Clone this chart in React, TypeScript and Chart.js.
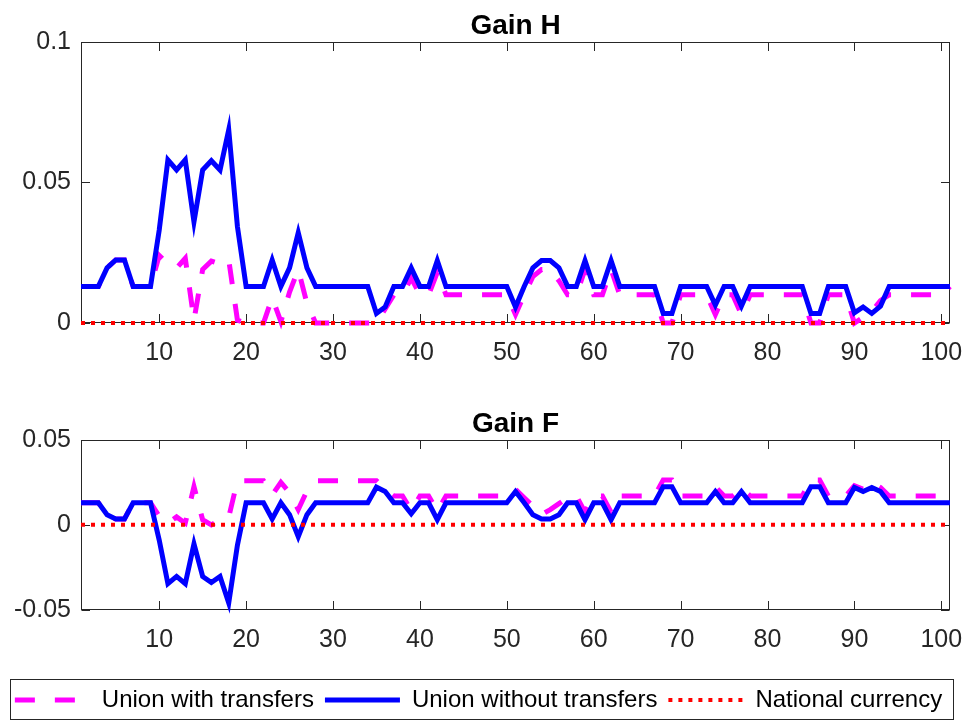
import React, { useEffect, useRef } from 'react';
import { Chart, registerables } from 'chart.js';

Chart.register(...registerables);

// ---------- data ----------
const seriesNames = ['Union with transfers', 'Union without transfers', 'National currency'];
const xTicks = [10, 20, 30, 40, 50, 60, 70, 80, 90, 100];
const xMin = 1;
const xMax = 101;

const topYTicks = [0, 0.05, 0.1];
const topYLabels = ['0', '0.05', '0.1'];
const botYTicks = [-0.05, 0, 0.05];
const botYLabels = ['-0.05', '0', '0.05'];

// Gain H
const gainHWith = [
  0.013, 0.013, 0.013, 0.0196, 0.0224, 0.0224, 0.013, 0.013, 0.013, 0.024,
  0.021, 0.0195, 0.023, 0.001, 0.019, 0.022, 0.021, 0.0225, 0.001, 0,
  0, 0, 0.009, 0.0005, 0.011, 0.019, 0.007, 0, 0, 0,
  0, 0, 0, 0, 0, 0.005, 0.01, 0.01, 0.016, 0.01,
  0.01, 0.018, 0.01, 0.01, 0.01, 0.01, 0.01, 0.01, 0.01, 0.01,
  0.003, 0.01, 0.0165, 0.019, 0.019, 0.015, 0.01, 0.01, 0.019, 0.01,
  0.01, 0.019, 0.01, 0.01, 0.01, 0.01, 0.01, 0, 0, 0.01,
  0.01, 0.01, 0.01, 0.003, 0.01, 0.01, 0.003, 0.01, 0.01, 0.01,
  0.01, 0.01, 0.01, 0.01, 0, 0, 0.01, 0.01, 0.01, 0,
  0.002, 0.004, 0.008, 0.01, 0.01, 0.01, 0.01, 0.01, 0.01, 0.01,
  0.013,
];
const gainHWithout = [
  0.013, 0.013, 0.013, 0.0196, 0.0224, 0.0224, 0.013, 0.013, 0.013, 0.033,
  0.058, 0.0544, 0.058, 0.036, 0.0544, 0.0577, 0.0544, 0.0687, 0.0343, 0.013,
  0.013, 0.013, 0.0224, 0.013, 0.0196, 0.0321, 0.0196, 0.013, 0.013, 0.013,
  0.013, 0.013, 0.013, 0.013, 0.0034, 0.0057, 0.013, 0.013, 0.0196, 0.013,
  0.013, 0.0222, 0.013, 0.013, 0.013, 0.013, 0.013, 0.013, 0.013, 0.013,
  0.0057, 0.013, 0.0196, 0.0222, 0.0222, 0.0196, 0.013, 0.013, 0.0222, 0.013,
  0.013, 0.0222, 0.013, 0.013, 0.013, 0.013, 0.013, 0.0034, 0.0034, 0.013,
  0.013, 0.013, 0.013, 0.0064, 0.013, 0.013, 0.006, 0.013, 0.013, 0.013,
  0.013, 0.013, 0.013, 0.013, 0.0034, 0.0034, 0.013, 0.013, 0.013, 0.0036,
  0.0057, 0.0034, 0.006, 0.013, 0.013, 0.013, 0.013, 0.013, 0.013, 0.013,
  0.013,
];
const gainHNational = [
  0, 0, 0, 0, 0, 0, 0, 0, 0, 0,
  0, 0, 0, 0, 0, 0, 0, 0, 0, 0,
  0, 0, 0, 0, 0, 0, 0, 0, 0, 0,
  0, 0, 0, 0, 0, 0, 0, 0, 0, 0,
  0, 0, 0, 0, 0, 0, 0, 0, 0, 0,
  0, 0, 0, 0, 0, 0, 0, 0, 0, 0,
  0, 0, 0, 0, 0, 0, 0, 0, 0, 0,
  0, 0, 0, 0, 0, 0, 0, 0, 0, 0,
  0, 0, 0, 0, 0, 0, 0, 0, 0, 0,
  0, 0, 0, 0, 0, 0, 0, 0, 0, 0,
  0,
];

// Gain F
const gainFWith = [
  0.013, 0.013, 0.013, 0.006, 0.0035, 0.0035, 0.013, 0.013, 0.013, 0.005,
  0.001, 0.0047, 0.001, 0.0225, 0.003, 0, 0.003, 0.0045, 0.026, 0.026,
  0.026, 0.026, 0.0176, 0.025, 0.019, 0.009, 0.02, 0.026, 0.026, 0.026,
  0.026, 0.026, 0.026, 0.026, 0.026, 0.021, 0.017, 0.017, 0.0085, 0.017,
  0.017, 0.008, 0.017, 0.017, 0.017, 0.017, 0.017, 0.017, 0.017, 0.017,
  0.021, 0.016, 0.011, 0.006, 0.009, 0.0125, 0.016, 0.017, 0.0075, 0.017,
  0.017, 0.0075, 0.017, 0.017, 0.017, 0.017, 0.017, 0.0265, 0.0265, 0.017,
  0.017, 0.017, 0.017, 0.0225, 0.017, 0.017, 0.022, 0.017, 0.017, 0.017,
  0.017, 0.017, 0.017, 0.017, 0.0265, 0.0265, 0.017, 0.017, 0.017, 0.023,
  0.021, 0.025, 0.022, 0.017, 0.017, 0.017, 0.017, 0.017, 0.017, 0.017,
  0.014,
];
const gainFWithout = [
  0.013, 0.013, 0.013, 0.006, 0.0035, 0.0035, 0.013, 0.013, 0.013, -0.009,
  -0.0347, -0.0304, -0.0347, -0.0112, -0.0304, -0.034, -0.0304, -0.046, -0.012, 0.013,
  0.013, 0.013, 0.0035, 0.013, 0.006, -0.007, 0.006, 0.013, 0.013, 0.013,
  0.013, 0.013, 0.013, 0.013, 0.0222, 0.0196, 0.013, 0.013, 0.0065, 0.013,
  0.013, 0.003, 0.013, 0.013, 0.013, 0.013, 0.013, 0.013, 0.013, 0.013,
  0.0196, 0.013, 0.006, 0.0035, 0.0035, 0.006, 0.013, 0.013, 0.003, 0.013,
  0.013, 0.003, 0.013, 0.013, 0.013, 0.013, 0.013, 0.0225, 0.0225, 0.013,
  0.013, 0.013, 0.013, 0.0196, 0.013, 0.013, 0.0196, 0.013, 0.013, 0.013,
  0.013, 0.013, 0.013, 0.013, 0.0225, 0.0225, 0.013, 0.013, 0.013, 0.022,
  0.0196, 0.022, 0.0196, 0.013, 0.013, 0.013, 0.013, 0.013, 0.013, 0.013,
  0.013,
];
const gainFNational = [
  0, 0, 0, 0, 0, 0, 0, 0, 0, 0,
  0, 0, 0, 0, 0, 0, 0, 0, 0, 0,
  0, 0, 0, 0, 0, 0, 0, 0, 0, 0,
  0, 0, 0, 0, 0, 0, 0, 0, 0, 0,
  0, 0, 0, 0, 0, 0, 0, 0, 0, 0,
  0, 0, 0, 0, 0, 0, 0, 0, 0, 0,
  0, 0, 0, 0, 0, 0, 0, 0, 0, 0,
  0, 0, 0, 0, 0, 0, 0, 0, 0, 0,
  0, 0, 0, 0, 0, 0, 0, 0, 0, 0,
  0, 0, 0, 0, 0, 0, 0, 0, 0, 0,
  0,
];

// ---------- styling ----------
const FONT = '"Liberation Sans", Arial, Helvetica, sans-serif';
const AXIS_COLOR = '#262626';

const toPoints = (arr: number[]) => arr.map((y, i) => ({ x: i + 1, y }));

const framePlugin = {
  id: 'matlabFrame',
  beforeDatasetsDraw(chart: any) {
    const { ctx, chartArea: a, scales } = chart;
    const L = Math.round(a.left) + 0.5;
    const R = Math.round(a.right) - 0.5;
    const T = Math.round(a.top) + 0.5;
    const B = Math.round(a.bottom) - 0.5;
    const tl = 8.5;
    ctx.save();
    ctx.strokeStyle = AXIS_COLOR;
    ctx.lineWidth = 1;
    ctx.setLineDash([]);
    ctx.strokeRect(L, T, R - L, B - T);
    ctx.beginPath();
    scales.x.ticks.forEach((t: any) => {
      const px = Math.round(scales.x.getPixelForValue(t.value)) + 0.5;
      ctx.moveTo(px, B);
      ctx.lineTo(px, B - tl);
      ctx.moveTo(px, T);
      ctx.lineTo(px, T + tl);
    });
    scales.y.ticks.forEach((t: any) => {
      const py = Math.round(scales.y.getPixelForValue(t.value)) + 0.5;
      ctx.moveTo(L, py);
      ctx.lineTo(L + tl, py);
      ctx.moveTo(R, py);
      ctx.lineTo(R - tl, py);
    });
    ctx.stroke();
    ctx.restore();
  },
};

const axesTitlePlugin = {
  id: 'axesTitle',
  afterDraw(chart: any, _args: any, opts: any) {
    const { ctx, chartArea: a } = chart;
    ctx.save();
    ctx.font = `bold ${opts.size}px ${FONT}`;
    ctx.fillStyle = '#000';
    ctx.textAlign = 'center';
    ctx.textBaseline = 'alphabetic';
    ctx.fillText(opts.text, (a.left + a.right) / 2, a.top - opts.gap);
    ctx.restore();
  },
};

const legendBoxPlugin = {
  id: 'legendBox',
  afterDraw(chart: any) {
    const lg = chart.legend;
    if (!lg || !chart.options.plugins.legend.display) return;
    const { ctx } = chart;
    ctx.save();
    ctx.strokeStyle = AXIS_COLOR;
    ctx.lineWidth = 1;
    ctx.setLineDash([]);
    ctx.strokeRect(10.5, Math.round(lg.top) + 2.5, 943, 40);
    ctx.restore();
  },
};

const legendLabels = (chart: any) => {
  const items = (Chart.defaults as any).plugins.legend.labels.generateLabels(chart);
  items.forEach((it: any) => {
    const ds = chart.data.datasets[it.datasetIndex];
    it.lineDash = ds.borderDash || [];
    it.lineWidth = ds.borderWidth;
    it.strokeStyle = ds.borderColor;
    it.fillStyle = ds.borderColor;
    it.lineCap = 'butt';
    it.pointStyle = 'line';
  });
  return items;
};

function makeConfig(
  title: string,
  withT: number[],
  withoutT: number[],
  national: number[],
  yTicks: number[],
  yLabels: string[],
  topPad: number,
  xAxisHeight: number,
  showLegend: boolean
): any {
  return {
    type: 'line',
    data: {
      datasets: [
        {
          label: seriesNames[0],
          data: toPoints(withT),
          borderColor: '#ff00ff',
          backgroundColor: '#ff00ff',
          borderWidth: 5,
          borderDash: [20, 20],
          pointRadius: 0,
          tension: 0,
          fill: false,
          clip: false,
          order: 2,
        },
        {
          label: seriesNames[1],
          data: toPoints(withoutT),
          borderColor: '#0000ff',
          backgroundColor: '#0000ff',
          borderWidth: 5,
          pointRadius: 0,
          tension: 0,
          fill: false,
          clip: false,
          order: 1,
        },
        {
          label: seriesNames[2],
          data: toPoints(national),
          borderColor: '#ff0000',
          backgroundColor: '#ff0000',
          borderWidth: 4,
          borderDash: [4, 6],
          pointRadius: 0,
          tension: 0,
          fill: false,
          clip: false,
          order: 0,
        },
      ],
    },
    options: {
      responsive: false,
      animation: false,
      devicePixelRatio: 1,
      events: [],
      layout: { padding: { top: topPad, left: 0, right: 13, bottom: 0 } },
      scales: {
        x: {
          type: 'linear',
          min: xMin,
          max: xMax,
          grid: { display: false, drawTicks: false },
          border: { display: false },
          afterBuildTicks: (s: any) => {
            s.ticks = xTicks.map((v) => ({ value: v }));
          },
          afterFit: (s: any) => {
            s.height = xAxisHeight;
            s.paddingLeft = 0;
            s.paddingRight = 20;
          },
          ticks: {
            autoSkip: false,
            maxRotation: 0,
            padding: 15.5,
            color: AXIS_COLOR,
            font: { family: FONT, size: 25, lineHeight: 1.2 },
            callback: (v: any) => String(v),
          },
        },
        y: {
          type: 'linear',
          min: yTicks[0],
          max: yTicks[yTicks.length - 1],
          grid: { display: false, drawTicks: false },
          border: { display: false },
          afterBuildTicks: (s: any) => {
            s.ticks = yTicks.map((v) => ({ value: v }));
          },
          afterFit: (s: any) => {
            s.width = 81;
            s.paddingTop = 0;
            s.paddingBottom = 0;
          },
          ticks: {
            padding: 10,
            color: AXIS_COLOR,
            font: { family: FONT, size: 25, lineHeight: 1.2 },
            callback: (v: any) => {
              const i = yTicks.indexOf(v);
              return i >= 0 ? yLabels[i] : '';
            },
          },
        },
      },
      plugins: {
        title: { display: false },
        tooltip: { enabled: false },
        axesTitle: { text: title, size: 28, gap: 8 },
        legend: {
          display: showLegend,
          position: 'bottom',
          labels: {
            usePointStyle: true,
            pointStyle: 'line',
            pointStyleWidth: 75,
            padding: 11,
            color: '#000',
            font: { family: FONT, size: 24 },
            generateLabels: legendLabels,
            sort: (a: any, b: any) => a.datasetIndex - b.datasetIndex,
          },
        },
      },
    },
    plugins: [framePlugin, axesTitlePlugin, legendBoxPlugin],
  };
}

export default function App() {
  const topRef = useRef<HTMLCanvasElement>(null);
  const botRef = useRef<HTMLCanvasElement>(null);

  useEffect(() => {
    const c1 = new Chart(
      topRef.current as HTMLCanvasElement,
      makeConfig('Gain H', gainHWith, gainHWithout, gainHNational, topYTicks, topYLabels, 41.7, 57, false)
    );
    const c2 = new Chart(
      botRef.current as HTMLCanvasElement,
      makeConfig('Gain F', gainFWith, gainFWithout, gainFNational, botYTicks, botYLabels, 60, 67.3, true)
    );
    return () => {
      c1.destroy();
      c2.destroy();
    };
  }, []);

  return (
    <div style={{ position: 'absolute', left: 0, top: 0, width: 970, height: 722, background: '#fff' }}>
      <canvas ref={topRef} width={970} height={380} style={{ position: 'absolute', left: 0, top: 0 }} />
      <canvas ref={botRef} width={970} height={342} style={{ position: 'absolute', left: 0, top: 380 }} />
    </div>
  );
}
